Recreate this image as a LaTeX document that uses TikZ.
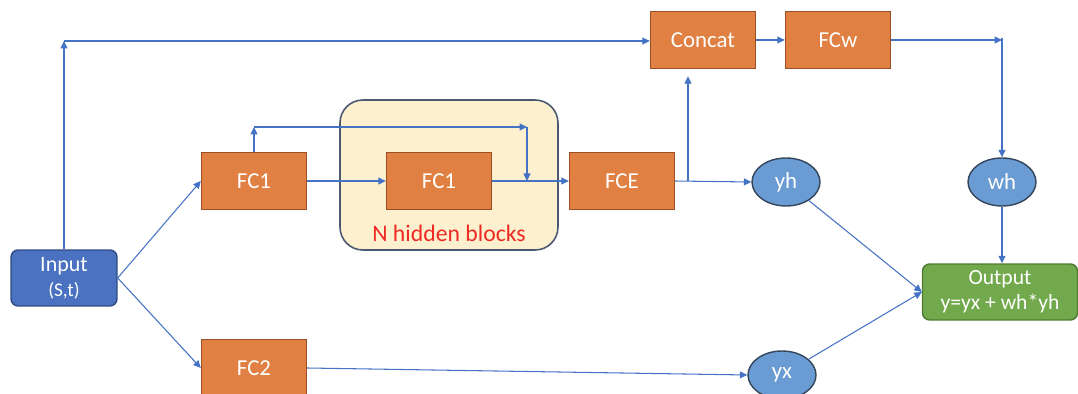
\documentclass[tikz,border=0pt]{standalone}
\usepackage{fontspec}
\setmainfont{Carlito}
\usetikzlibrary{arrows.meta,shapes.geometric}
\definecolor{netLine}{HTML}{4472C4}
\definecolor{netOrange}{HTML}{E08043}
\definecolor{netOrangeEdge}{HTML}{9A5024}
\definecolor{netSky}{HTML}{6A9BD2}
\definecolor{netSkyEdge}{HTML}{33465C}
\definecolor{netBlue}{HTML}{4A72C0}
\definecolor{netBlueEdge}{HTML}{2F4A80}
\definecolor{netGreen}{HTML}{72A94C}
\definecolor{netGreenEdge}{HTML}{4F7A33}
\definecolor{netCream}{HTML}{FCF0CF}
\definecolor{netSlate}{HTML}{4A5870}
\definecolor{netRed}{HTML}{EE2A24}
\tikzset{
    >={Triangle[length=1.5mm,width=1.4mm]},
    fcbox/.style={draw=netOrangeEdge, line width=0.8pt, fill=netOrange, text=white, minimum width=2.1cm, minimum height=1.14cm, font=\fontsize{13}{15}\selectfont},
    inbox/.style={draw=netBlueEdge, line width=0.8pt, rounded corners=4pt, fill=netBlue, text=white, align=center, minimum width=2.12cm, minimum height=1.12cm, inner sep=1pt, font=\fontsize{12.5}{14}\selectfont},
    outbox/.style={draw=netGreenEdge, line width=0.8pt, rounded corners=4pt, fill=netGreen, text=white, align=center, minimum width=3.1cm, minimum height=1.12cm, inner sep=1pt, font=\fontsize{12.3}{14}\selectfont},
    outvar/.style={ellipse, draw=netSkyEdge, line width=0.8pt, fill=netSky, text=white, minimum width=1.36cm, minimum height=0.96cm, inner sep=0pt, font=\fontsize{13}{15}\selectfont},
    hidden/.style={draw=netSlate, line width=0.9pt, rounded corners=13pt, fill=netCream, minimum width=4.36cm, minimum height=3cm},
    link/.style={->, draw=netLine, line width=0.6pt}
}
\begin{document}
\begin{tikzpicture}[x=0.02cm,y=-0.02cm]
\useasboundingbox (0,0) rectangle (1078,394);

% container for the repeated hidden layers
\node[hidden] (blk) at (449,175) {};
\node[text=netRed, font=\fontsize{13.5}{16}\selectfont] (blklbl) at (449,233) {N hidden blocks};

% blocks
\node[inbox] (inp) at (64,278) {Input\\{\fontsize{11}{12}\selectfont (S,t)}};
\node[fcbox] (fc1) at (254,181) {FC1};
\node[fcbox] (fc1h) at (439,181) {FC1};
\node[fcbox] (fce) at (622,181) {FCE};
\node[fcbox] (fc2) at (254,368) {FC2};
\node[fcbox] (cat) at (703,40) {Concat};
\node[fcbox] (fcw) at (838,40) {FCw};
\node[outvar] (yh) at (786,182) {yh};
\node[outvar] (wh) at (1002,182) {wh};
\node[outvar] (yx) at (782,375) {yx};
\node[outbox] (out) at (1000,292) {Output\\y=yx + wh*yh};

% bend points
\coordinate (skipup) at (64,41);
\coordinate (resup) at (254,127);
\coordinate (resdn) at (527,127);
\coordinate (resjoin) at (527,181);
\coordinate (fcesplit) at (688,181);
\coordinate (fcwturn) at (1002,38);

% input skip to concat
\draw[link] (inp.north) -- (skipup);
\draw[link] (skipup) -- (skipup -| cat.west);
\draw[link] (inp.east) -- (fc1.west);
\draw[link] (inp.east) -- (fc2.west);

% residual path around the hidden blocks
\draw[link] (fc1.north) -- (resup);
\draw[link] (resup) -- (resdn);
\draw[link] (resdn) -- (resjoin);
\draw[link] (fc1.east) -- (fc1h.west);
\draw[link] (fc1h.east) -- (fce.west);
\draw[link] (fce.east) -- (yh.west);
\draw[link] (fcesplit) -- ([yshift=-4pt]cat.south -| fcesplit);

% weight branch
\draw[link] (cat) -- (fcw);
\draw[link] (fcw.east) -- (fcw.east -| fcwturn);
\draw[link] (fcwturn) -- (wh.north);
\draw[link] (wh.south) -- (wh.south |- out.north);

% outputs
\draw[link] (yh) -- (out.west);
\draw[link] (fc2.east) -- (yx.west);
\draw[link] (yx) -- (out.west);
\end{tikzpicture}
\end{document}
